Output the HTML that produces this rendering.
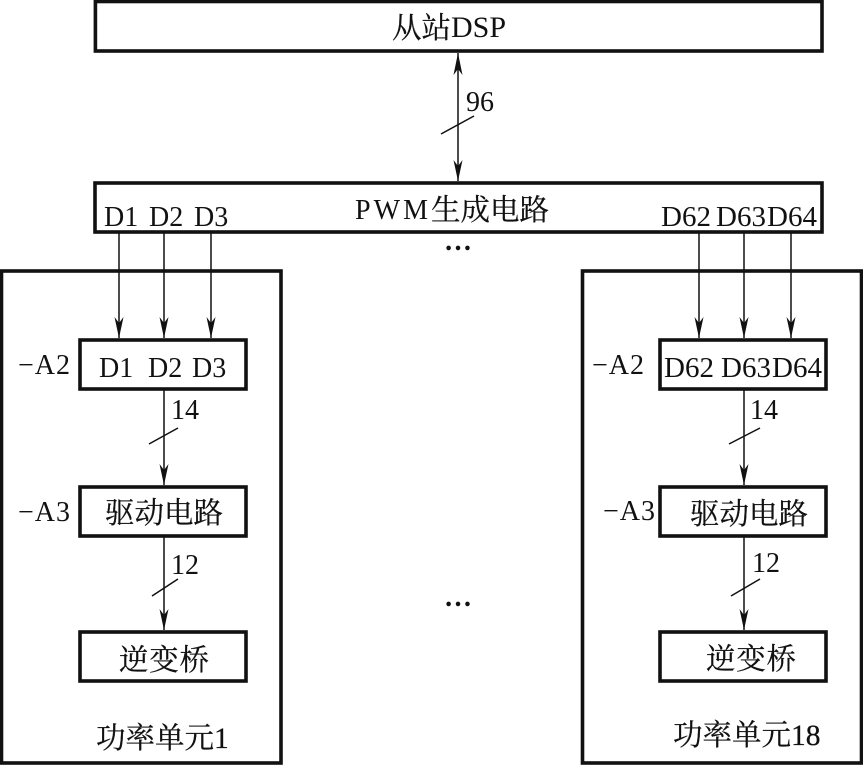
<!DOCTYPE html>
<html><head><meta charset="utf-8">
<style>
html,body{margin:0;padding:0;background:#fff;width:863px;height:765px;overflow:hidden}
svg{display:block}
text{font-family:"Liberation Serif","Noto Serif CJK SC",serif;fill:#111;font-size:28px}
.k{font-size:29.5px;stroke:#111;stroke-width:.25}
.d{font-size:29px}
.c{text-anchor:middle}
.box{fill:none;stroke:#111;stroke-width:3.6}
.ln{fill:none;stroke:#111;stroke-width:1.5}
.ah{fill:#111;stroke:none}
</style></head><body>
<svg width="863" height="765" viewBox="0 0 863 765" xmlns="http://www.w3.org/2000/svg">
<rect x="95.400" y="1.500" width="726.600" height="49.500" class="box"/>
<rect x="95" y="183" width="727" height="49" class="box"/>
<rect x="1.500" y="271" width="279.500" height="492" class="box"/>
<rect x="582.500" y="271" width="279" height="492" class="box"/>
<rect x="80" y="340" width="166" height="49" class="box"/>
<rect x="80" y="487" width="166" height="49" class="box"/>
<rect x="80" y="632" width="166" height="49" class="box"/>
<rect x="660" y="340" width="166" height="49" class="box"/>
<rect x="660" y="487" width="166" height="49" class="box"/>
<rect x="660" y="632" width="166" height="49" class="box"/>

<line x1="458" y1="53" x2="458" y2="181" class="ln"/>
<path d="M458 53l-4.500 22 4.500-6 4.500 6z" class="ah"/>
<path d="M458 181l-4.500-21 4.500 6 4.500-6z" class="ah"/>
<line x1="441" y1="134" x2="474" y2="116" class="ln"/>

<g class="ln">
<line x1="119" y1="233" x2="119" y2="338"/><line x1="164" y1="233" x2="164" y2="338"/><line x1="211" y1="233" x2="211" y2="338"/>
<line x1="699" y1="233" x2="699" y2="338"/><line x1="744" y1="233" x2="744" y2="338"/><line x1="791" y1="233" x2="791" y2="338"/>
<line x1="164" y1="390" x2="164" y2="485"/><line x1="164" y1="537" x2="164" y2="630"/>
<line x1="744" y1="390" x2="744" y2="485"/><line x1="744" y1="537" x2="744" y2="630"/>
<line x1="149" y1="444" x2="178" y2="428"/><line x1="152" y1="596" x2="178" y2="579"/>
<line x1="729" y1="444" x2="760" y2="428"/><line x1="731" y1="596" x2="760" y2="579"/>
</g>
<g class="ah">
<path d="M119 338l-4.500-21 4.500 6 4.500-6z"/><path d="M164 338l-4.500-21 4.500 6 4.500-6z"/><path d="M211 338l-4.500-21 4.500 6 4.500-6z"/>
<path d="M699 338l-4.500-21 4.500 6 4.500-6z"/><path d="M744 338l-4.500-21 4.500 6 4.500-6z"/><path d="M791 338l-4.500-21 4.500 6 4.500-6z"/>
<path d="M164 485l-4.500-21 4.500 6 4.500-6z"/><path d="M164 630l-4.500-21 4.500 6 4.500-6z"/>
<path d="M744 485l-4.500-21 4.500 6 4.500-6z"/><path d="M744 630l-4.500-21 4.500 6 4.500-6z"/>
</g>

<text x="392" y="38" class="k">从站</text><text x="451" y="37" style="font-size:30px">DSP</text>
<text x="466" y="111">96</text>
<text x="355" y="219" textLength="73" lengthAdjust="spacing">PWM</text>
<text x="431" y="220" class="k">生成电路</text>
<text x="104" y="226">D1</text><text x="149" y="226">D2</text><text x="194" y="226">D3</text>
<text x="661" y="226" class="d">D62</text><text x="716" y="226" class="d">D63</text><text x="767" y="226" class="d">D64</text>
<text x="458" y="250" class="c" font-weight="bold">…</text>
<text x="458" y="606" class="c" font-weight="bold">…</text>

<text x="18" y="374" textLength="52">−A2</text><text x="18" y="521" textLength="52">−A3</text>
<text x="592" y="374" textLength="52">−A2</text><text x="603" y="520" textLength="52">−A3</text>

<text x="99" y="377">D1</text><text x="148" y="377">D2</text><text x="192" y="377">D3</text>
<text x="664" y="377" class="d">D62</text><text x="721" y="377" class="d">D63</text><text x="772" y="377" class="d">D64</text>

<text x="105" y="523" class="k">驱动电路</text>
<text x="690" y="524" class="k">驱动电路</text>
<text x="119" y="670" class="k" textLength="90">逆变桥</text>
<text x="706" y="669" class="k" textLength="90">逆变桥</text>

<text x="171" y="419">14</text><text x="171" y="574">12</text>
<text x="750" y="419">14</text><text x="752" y="572">12</text>

<text x="96" y="748" class="k">功率单元1</text>
<text x="673" y="745" class="k">功率单元18</text>
</svg>
</body></html>
